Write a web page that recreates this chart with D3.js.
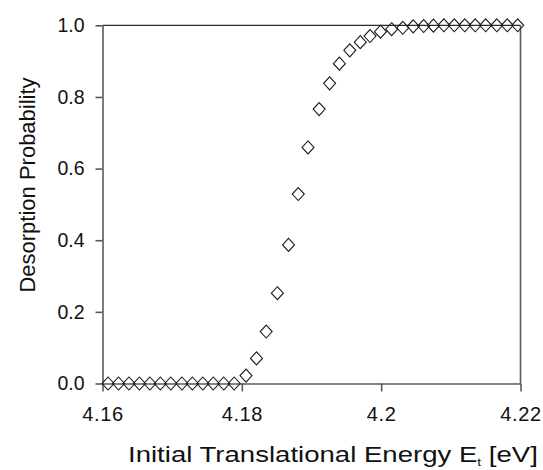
<!DOCTYPE html>
<html>
<head>
<meta charset="utf-8">
<script src="https://cdn.jsdelivr.net/npm/d3@7/dist/d3.min.js"></script>
<style>
    body { margin: 0; background: #fff; }
    svg { display: block; font-family: "Liberation Sans", Arial, sans-serif; }
</style>
</head>
<body>
<svg></svg>
<script>

const energy = [4.1608, 4.1623, 4.1638, 4.1653, 4.1668, 4.1683, 4.1698, 4.1714, 4.1729, 4.1744,
    4.1759, 4.1774, 4.1789, 4.1806, 4.1821, 4.1835, 4.1851, 4.1867, 4.1881, 4.1895,
    4.1911, 4.1926, 4.1940, 4.1955, 4.1970, 4.1984, 4.1999, 4.2015, 4.2031, 4.2046,
    4.2061, 4.2075, 4.2090, 4.2105, 4.2120, 4.2135, 4.2150, 4.2166, 4.2181, 4.2196]

const probability = [0, 0, 0, 0, 0, 0, 0, 0, 0, 0,
    0, 0, 0, 0.022, 0.070, 0.145, 0.252, 0.387, 0.529, 0.659,
    0.766, 0.838, 0.893, 0.930, 0.953, 0.970, 0.982, 0.989, 0.993, 0.997,
    0.998, 0.999, 1, 1, 1, 1, 1, 1, 1, 1]

const xTicks = [4.16, 4.18, 4.2, 4.22]
const xTickLabels = ["4.16", "4.18", "4.2", "4.22"]
const yTicks = [0, 0.2, 0.4, 0.6, 0.8, 1.0]
const yTickLabels = ["0.0", "0.2", "0.4", "0.6", "0.8", "1.0"]

const w = 543
const h = 470
const plotLeft = 102.5
const plotRight = 520.5
const plotTop = 25.3
const plotBottom = 383.5

const svg = d3.select("svg")
    .attr("width", w)
    .attr("height", h)

//Scales
const xScale = d3.scaleLinear()
    .domain([4.16, 4.22])
    .range([plotLeft, plotRight])

const yScale = d3.scaleLinear()
    .domain([0, 1])
    .range([plotBottom, plotTop])

//Top and right frame lines
svg.append("line")
    .attr("x1", plotLeft).attr("x2", plotRight)
    .attr("y1", plotTop).attr("y2", plotTop)
    .attr("stroke", "#2a2a2a")
    .attr("stroke-width", 1.2)

svg.append("line")
    .attr("x1", plotRight).attr("x2", plotRight)
    .attr("y1", plotTop).attr("y2", plotBottom)
    .attr("stroke", "#5a5a5a")
    .attr("stroke-width", 1.6)

//Axes
const bottomAxis = d3.axisBottom(xScale)
    .tickValues(xTicks)
    .tickFormat((d, i) => xTickLabels[i])
    .tickSize(8)
    .tickSizeOuter(0)
    .tickPadding(15)

const leftAxis = d3.axisLeft(yScale)
    .tickValues(yTicks)
    .tickFormat((d, i) => yTickLabels[i])
    .tickSize(7)
    .tickSizeOuter(0)
    .tickPadding(11)

const gx = svg.append("g")
    .attr("transform", `translate(0, ${plotBottom})`)
    .call(bottomAxis)

const gy = svg.append("g")
    .attr("transform", `translate(${plotLeft}, 0)`)
    .call(leftAxis)

for (const g of [gx, gy]) {
    g.select(".domain").attr("stroke", "#5a5a5a").attr("stroke-width", 1.6)
    g.selectAll(".tick line").attr("stroke", "#5a5a5a").attr("stroke-width", 1.6)
    g.selectAll(".tick text")
        .attr("fill", "#111")
        .attr("font-family", "'Liberation Sans', Arial, sans-serif")
}

gx.selectAll(".tick text")
    .attr("font-size", 20)
    .attr("letter-spacing", 0.6)

gy.selectAll(".tick text")
    .attr("font-size", 19.5)

//Data points
svg.append("g")
    .selectAll("path")
    .data(energy)
    .enter()
    .append("path")
    .attr("transform", (d, i) => `translate(${xScale(d)}, ${yScale(probability[i])})`)
    .attr("d", "M0,-6.5L6,0L0,6.5L-6,0Z")
    .attr("fill", "none")
    .attr("stroke", "#1a1a1a")
    .attr("stroke-width", 1.1)

//Axis titles
const xTitle = svg.append("text")
    .attr("x", 0)
    .attr("y", 0)
    .attr("font-size", 22)
    .attr("fill", "#111")

xTitle.append("tspan").text("Initial Translational Energy E")
xTitle.append("tspan").attr("font-size", 11).attr("dy", 4).text("t")
xTitle.append("tspan").attr("dy", -4).text(" [eV]")

const xTitleWidth = xTitle.node().getComputedTextLength()
const xTitleTarget = 410
xTitle.attr("transform", `translate(128, 462) scale(${xTitleTarget / xTitleWidth}, 1)`)

svg.append("text")
    .attr("transform", `translate(35, 185) rotate(-90)`)
    .attr("text-anchor", "middle")
    .attr("font-size", 22)
    .attr("fill", "#111")
    .text("Desorption Probability")

</script>
</body>
</html>
